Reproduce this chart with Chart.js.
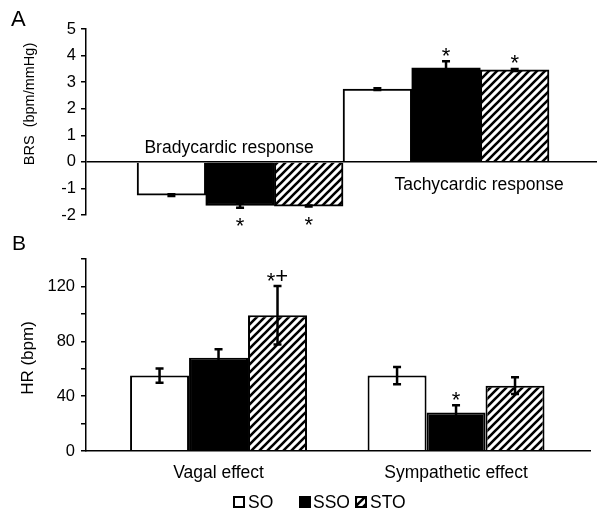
<!DOCTYPE html>
<html>
<head>
<meta charset="utf-8">
<script src="https://cdn.jsdelivr.net/npm/chart.js@4.4.1/dist/chart.umd.min.js"></script>
<style>
  html, body { margin: 0; padding: 0; background: #fff; }
  #wrap { position: relative; width: 597px; height: 515px; }
  #chartA { position: absolute; left: 0; top: 0; }
  #chartB { position: absolute; left: 0; top: 230px; }
</style>
</head>
<body>
<div id="wrap">
  <canvas id="chartA" width="597" height="230"></canvas>
  <canvas id="chartB" width="597" height="285"></canvas>
</div>
<script>
// groups (legend)
const groups = ['SO', 'SSO', 'STO'];

// panel A - BRS
const brsCategories = ['Bradycardic response', 'Tachycardic response'];
const brsSO  = [-1.25, 2.74];
const brsSSO = [-1.64, 3.54];
const brsSTO = [-1.66, 3.46];
const brsErrSO  = [0.03, 0.03];
const brsErrSSO = [0.08, 0.25];
const brsErrSTO = [0.02, 0.04];
const brsMarksSO  = ['', ''];
const brsMarksSSO = ['*', '*'];
const brsMarksSTO = ['*', '*'];
const brsTicks = [-2, -1, 0, 1, 2, 3, 4, 5];

// panel B - HR
const hrCategories = ['Vagal effect', 'Sympathetic effect'];
const hrSO  = [55, 55];
const hrSSO = [68, 28];
const hrSTO = [99, 47.6];
const hrErrSO  = [5.2, 6.3];
const hrErrSSO = [6.2, 5.3];
const hrErrSTO = [21.3, 6.1];
const hrMarksSO  = ['', ''];
const hrMarksSSO = ['', '*'];
const hrMarksSTO = ['*+', ''];
const hrTicks = [0, 40, 80, 120];
const hrMax = 140;

const FONT = '"Liberation Sans", Arial, sans-serif';
Chart.defaults.font.family = FONT;
Chart.defaults.color = '#000';

// diagonal hatch for STO
function makeHatch() {
    const c = document.createElement('canvas');
    c.width = 8; c.height = 8;
    const g = c.getContext('2d');
    g.fillStyle = '#fff';
    g.fillRect(0, 0, 8, 8);
    g.strokeStyle = '#000';
    g.lineWidth = 2.6;
    g.beginPath();
    g.moveTo(-2, 10); g.lineTo(10, -2);
    g.moveTo(-6, 6); g.lineTo(6, -6);
    g.moveTo(2, 14); g.lineTo(14, 2);
    g.stroke();
    return g.createPattern(c, 'repeat');
}
const fills = ['#fff', '#000', makeHatch()];

function makeDatasets(values, errors, marks) {
    return groups.map((g, k) => ({
        label: g,
        data: values[k],
        errors: errors[k],
        marks: marks[k],
        backgroundColor: fills[k],
        borderColor: '#000',
        borderWidth: 2
    }));
}

// draws "*" / "*+" with the plus raised to asterisk height
function drawMark(ctx, text, cx, base) {
    ctx.font = '22px ' + FONT;
    ctx.textAlign = 'left';
    ctx.textBaseline = 'alphabetic';
    const w = ctx.measureText(text).width;
    let x = cx - w / 2;
    for (const ch of text) {
        ctx.fillText(ch, x, ch === '+' ? base - 5 : base);
        x += ctx.measureText(ch).width;
    }
}

// error bars + significance marks
const errorBars = {
    id: 'errorBars',
    afterDatasetsDraw(chart) {
        const ctx = chart.ctx, y = chart.scales.y;
        ctx.save();
        ctx.strokeStyle = '#000';
        ctx.fillStyle = '#000';
        ctx.lineWidth = 2.5;
        chart.data.datasets.forEach((ds, d) => {
            chart.getDatasetMeta(d).data.forEach((bar, i) => {
                const v = ds.data[i], e = ds.errors[i];
                const top = y.getPixelForValue(v + e), bot = y.getPixelForValue(v - e);
                ctx.beginPath();
                ctx.moveTo(bar.x, top); ctx.lineTo(bar.x, bot);
                ctx.moveTo(bar.x - 4, top); ctx.lineTo(bar.x + 4, top);
                ctx.moveTo(bar.x - 4, bot); ctx.lineTo(bar.x + 4, bot);
                ctx.stroke();
                const mark = ds.marks[i];
                if (mark) drawMark(ctx, mark, bar.x, v >= 0 ? top + 1.5 : bot + 25.5);
            });
        });
        ctx.restore();
    }
};

const panelA = {
    id: 'panelA',
    afterDraw(chart) {
        const { ctx, scales: { x, y } } = chart;
        const y0 = y.getPixelForValue(0);
        ctx.save();
        ctx.fillStyle = '#000';
        ctx.textBaseline = 'alphabetic';
        ctx.font = '22px ' + FONT;
        ctx.textAlign = 'left';
        ctx.fillText('A', 11, 26);
        ctx.font = '17.5px ' + FONT;
        ctx.textAlign = 'center';
        ctx.fillText(brsCategories[0], x.getPixelForValue(1) - 11, y0 - 9);
        ctx.fillText(brsCategories[1], x.getPixelForValue(2) + 33, y0 + 28);
        ctx.translate(30, 104);
        ctx.rotate(-Math.PI / 2);
        ctx.font = '14.5px ' + FONT;
        ctx.textBaseline = 'middle';
        ctx.fillText('BRS  (bpm/mmHg)', 0, 0);
        ctx.restore();
    }
};

const legendBoxX = [233, 299, 355];
const legendTextX = [248, 313, 370];
const panelB = {
    id: 'panelB',
    afterDraw(chart) {
        const { ctx, chartArea } = chart;
        ctx.save();
        ctx.fillStyle = '#000';
        ctx.textBaseline = 'alphabetic';
        ctx.font = '21px ' + FONT;
        ctx.textAlign = 'left';
        ctx.fillText('B', 12, 20);
        // legend
        ctx.font = '17.5px ' + FONT;
        chart.data.datasets.forEach((ds, k) => {
            ctx.fillStyle = ds.backgroundColor;
            ctx.fillRect(legendBoxX[k], 266, 12, 12);
            ctx.strokeStyle = '#000';
            ctx.lineWidth = 2;
            ctx.strokeRect(legendBoxX[k] + 1, 267, 10, 10);
            ctx.fillStyle = '#000';
            ctx.fillText(ds.label, legendTextX[k], 278);
        });
        // y title
        ctx.translate(28, (chartArea.top + chartArea.bottom) / 2 + 3);
        ctx.rotate(-Math.PI / 2);
        ctx.font = '17px ' + FONT;
        ctx.textAlign = 'center';
        ctx.textBaseline = 'middle';
        ctx.fillText('HR (bpm)', 0, 0);
        ctx.restore();
    }
};

// A: BRS
new Chart(document.getElementById('chartA'), {
    type: 'bar',
    data: {
        labels: brsCategories.map((c, i) => i + 1),
        datasets: makeDatasets([brsSO, brsSSO, brsSTO], [brsErrSO, brsErrSSO, brsErrSTO], [brsMarksSO, brsMarksSSO, brsMarksSTO])
    },
    options: {
        responsive: false,
        animation: false,
        layout: { padding: { top: 29, bottom: 11, left: 0, right: 0 } },
        datasets: { bar: { categoryPercentage: 1, barPercentage: 1 } },
        plugins: { legend: { display: false }, tooltip: { enabled: false } },
        scales: {
            x: {
                type: 'linear', display: false, offset: false,
                min: 0.252, max: 2.733,
                ticks: { stepSize: 1, includeBounds: false },
                grid: { offset: false }
            },
            y: {
                min: brsTicks[0], max: brsTicks[brsTicks.length - 1],
                afterFit: s => { s.width = 86; },
                ticks: { stepSize: 1, font: { size: 16.5 }, color: '#000', padding: 5 },
                grid: {
                    z: 1,
                    color: c => (c.tick && c.tick.value === 0 ? '#000' : 'rgba(0,0,0,0)'),
                    lineWidth: 1.5, tickColor: '#000', tickLength: 5
                },
                border: { display: true, color: '#000', width: 1.5, z: 1 }
            }
        }
    },
    plugins: [errorBars, panelA]
});

// B: HR
new Chart(document.getElementById('chartB'), {
    type: 'bar',
    data: {
        labels: hrCategories.map((c, i) => i + 1),
        datasets: makeDatasets([hrSO, hrSSO, hrSTO], [hrErrSO, hrErrSSO, hrErrSTO], [hrMarksSO, hrMarksSSO, hrMarksSTO])
    },
    options: {
        responsive: false,
        animation: false,
        layout: { padding: { top: 29, bottom: 0, left: 0, right: 7 } },
        datasets: { bar: { categoryPercentage: 0.745, barPercentage: 1 } },
        plugins: { legend: { display: false }, tooltip: { enabled: false } },
        scales: {
            x: {
                type: 'linear', offset: false,
                min: 0.442, max: 2.564,
                afterFit: s => { s.height = 64; },
                ticks: {
                    stepSize: 1, includeBounds: false, autoSkip: false, maxRotation: 0,
                    padding: 12, font: { size: 17.5 }, color: '#000',
                    callback: v => hrCategories[v - 1]
                },
                grid: { display: false, drawTicks: false, offset: false },
                border: { display: true, color: '#000', width: 1.5, z: 1 }
            },
            y: {
                min: 0, max: hrMax,
                afterFit: s => { s.width = 86; },
                ticks: {
                    stepSize: 20, font: { size: 16.5 }, color: '#000', padding: 6,
                    callback: v => (hrTicks.includes(v) ? v : '')
                },
                grid: { drawOnChartArea: false, color: '#000', lineWidth: 1.5, tickLength: 5 },
                border: { display: true, color: '#000', width: 1.5, z: 1 }
            }
        }
    },
    plugins: [errorBars, panelB]
});
</script>
</body>
</html>
